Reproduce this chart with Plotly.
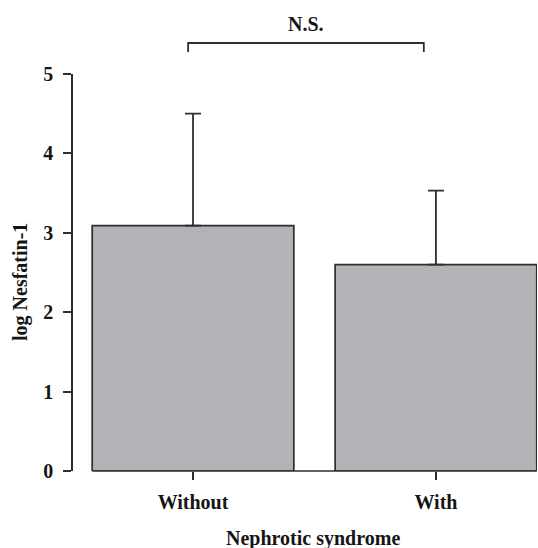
import plotly.graph_objects as go

categories = ["Without", "With"]
means = [3.09, 2.60]
sd_upper = [1.41, 0.93]
y_ticks = [0, 1, 2, 3, 4, 5]
sig_label = "N.S."

FONT = "Liberation Serif, Times New Roman, serif"
INK = "#2e2e2e"
TXT = "#151515"
BAR = "#b2b3b7"
FS = 20

W, H = 538, 548
ML, MR, MT, MB = 73, 1, 74, 77
x_range = [-0.494, 1.416]
bar_w = 0.83
PH = H - MT - MB
PW = W - ML - MR

def xpaper(v):
    return (v - x_range[0]) / (x_range[1] - x_range[0])

fig = go.Figure()
fig.add_trace(go.Bar(
    x=[0, 1], y=means, width=bar_w,
    marker=dict(color=BAR, line=dict(color=INK, width=1.7)),
    error_y=dict(type="data", array=sd_upper, arrayminus=[0, 0], symmetric=False,
                 color=INK, thickness=1.8, width=8),
    showlegend=False, hoverinfo="skip",
))

# baseline under bars
fig.add_shape(type="line", xref="paper", yref="paper",
              x0=xpaper(0 - bar_w / 2), x1=xpaper(1 + bar_w / 2), y0=0, y1=0,
              line=dict(color=INK, width=1.7))

# significance bracket
by = (471 - 43) / PH
bt = (471 - 52) / PH
xl, xr = xpaper(-0.02), xpaper(0.95)
fig.add_shape(type="path", xref="paper", yref="paper",
              path=f"M {xl},{bt} L {xl},{by} L {xr},{by} L {xr},{bt}",
              line=dict(color=INK, width=1.8))
fig.add_annotation(x=(xl + xr) / 2, y=(471 - 24) / PH, xref="paper", yref="paper",
                   xanchor="center", yanchor="middle",
                   text=sig_label, showarrow=False,
                   font=dict(family=FONT, size=FS, color=TXT, weight="bold"))

# axis titles
fig.add_annotation(x=(313 - ML) / PW, y=(471 - 538) / PH,
                   xref="paper", yref="paper", xanchor="center", yanchor="middle",
                   text="Nephrotic syndrome", showarrow=False,
                   font=dict(family=FONT, size=FS, color=TXT, weight="bold"))
fig.add_annotation(x=(20 - ML) / PW, y=(471 - 282) / PH,
                   xref="paper", yref="paper", xanchor="center", yanchor="middle",
                   text="log Nesfatin-1", showarrow=False,
                   textangle=-90,
                   font=dict(family=FONT, size=FS, color=TXT, weight="bold"))

fig.update_layout(
    width=W, height=H,
    margin=dict(l=ML, r=MR, t=MT, b=MB, pad=0),
    paper_bgcolor="white", plot_bgcolor="white",
    font=dict(family=FONT, size=FS, color=TXT, weight="bold"),
    xaxis=dict(range=x_range, tickvals=[0, 1], ticktext=categories,
               showline=False, showgrid=False, zeroline=False,
               ticks="outside", ticklen=8, tickwidth=1.7, tickcolor=INK,
               ticklabelstandoff=5,
               tickfont=dict(family=FONT, size=FS, color=TXT, weight="bold")),
    yaxis=dict(range=[0, 5], tickvals=y_ticks, showline=True, linecolor=INK, linewidth=1.7,
               showgrid=False, zeroline=False,
               ticks="outside", ticklen=8, tickwidth=1.7, tickcolor=INK,
               ticklabelstandoff=6,
               tickfont=dict(family=FONT, size=FS, color=TXT, weight="bold")),
)

fig.write_html("out.html", config={"displayModeBar": False},
               post_script="document.body.style.margin='0';")
